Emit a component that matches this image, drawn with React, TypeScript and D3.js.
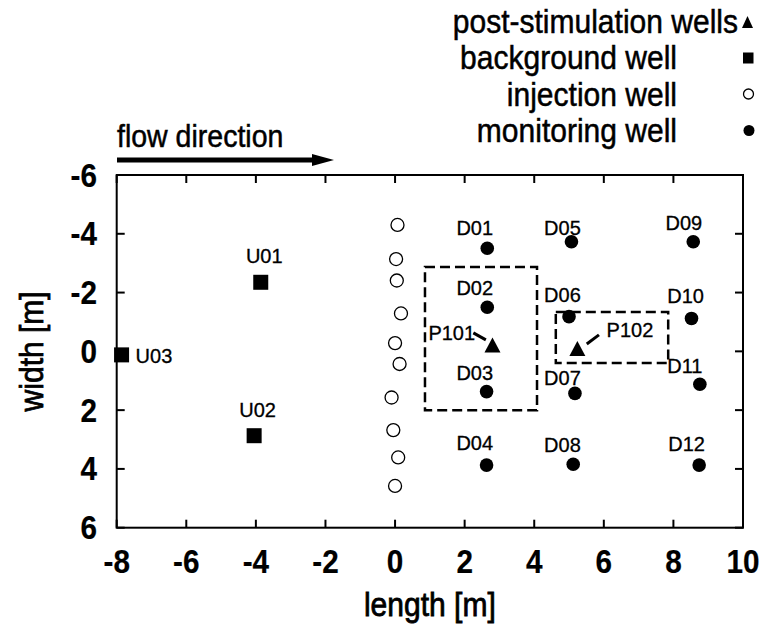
import React from "react";
import * as d3 from "d3";

// tick values
const xTicks = [-8, -6, -4, -2, 0, 2, 4, 6, 8, 10];
const yTicks = [-6, -4, -2, 0, 2, 4, 6];

// injection wells (open circles)
const injectionX = [0.07, 0.03, 0.05, 0.17, 0.0, 0.13, -0.1, -0.05, 0.09, 0.0];
const injectionY = [-4.3, -3.14, -2.41, -1.29, -0.28, 0.43, 1.57, 2.68, 3.61, 4.58];

// monitoring wells (filled circles)
const monitoringNames = ["D01", "D02", "D03", "D04", "D05", "D06", "D07", "D08", "D09", "D10", "D11", "D12"];
const monitoringX = [2.65, 2.65, 2.63, 2.63, 5.07, 5.0, 5.17, 5.12, 8.57, 8.52, 8.76, 8.74];
const monitoringY = [-3.51, -1.5, 1.37, 3.87, -3.73, -1.18, 1.43, 3.84, -3.73, -1.12, 1.12, 3.87];
const monitoringLabelX = [2.29, 2.29, 2.29, 2.29, 4.81, 4.81, 4.81, 4.81, 8.3, 8.35, 8.33, 8.38];
const monitoringLabelY = [-3.96, -1.92, 0.98, 3.36, -3.96, -1.69, 1.15, 3.42, -4.13, -1.64, 0.74, 3.38];

// background wells (squares)
const backgroundNames = ["U01", "U02", "U03"];
const backgroundX = [-3.86, -4.05, -7.86];
const backgroundY = [-2.35, 2.87, 0.12];
const backgroundLabelX = [-3.76, -3.95, -6.93];
const backgroundLabelY = [-3.0, 2.22, 0.41];

// post-stimulation wells (triangles)
const postNames = ["P101", "P102"];
const postX = [2.8, 5.24];
const postY = [-0.22, -0.1];
const postLabelX = [1.63, 6.75];
const postLabelY = [-0.39, -0.5];
const leaderX0 = [2.25, 5.51];
const leaderY0 = [-0.63, -0.25];
const leaderX1 = [2.61, 5.86];
const leaderY1 = [-0.39, -0.56];

// dashed stimulation zones
const boxX0 = [0.86, 4.62];
const boxX1 = [4.08, 7.85];
const boxY0 = [-2.87, -1.34];
const boxY1 = [2.0, 0.4];

const legendLabels = ["post-stimulation wells", "background well", "injection well", "monitoring well"];

const width = 768;
const height = 637;
const font = "'Liberation Sans', Arial, Helvetica, sans-serif";

const x = d3.scaleLinear().domain([-8, 10]).range([116.7, 743]);
const y = d3.scaleLinear().domain([-6, 6]).range([175, 527.7]);

// text squeezed a bit horizontally, like the condensed Helvetica of the original
const Txt = ({ tx, ty, anchor = "start", size = 33, weight = "normal", sx = 0.91, rotate = 0, sw = 0.5, children }: any) => (
  <g transform={`translate(${tx},${ty}) rotate(${rotate}) scale(${sx},1)`}>
    <text
      textAnchor={anchor}
      fontSize={size}
      fontWeight={weight}
      fontFamily={font}
      fill="#000"
      stroke="#000"
      strokeWidth={sw}
    >
      {children}
    </text>
  </g>
);

const triangle = (cx: number, cy: number, w: number, h: number) =>
  `M${cx - w / 2},${cy + h / 2}L${cx + w / 2},${cy + h / 2}L${cx},${cy - h / 2}Z`;

export default function App() {
  const [x0, x1] = x.range();
  const [y0, y1] = y.range();
  const tl = 8;

  return (
    <svg width={width} height={height} style={{ position: "absolute", left: 0, top: 0, background: "#fff" }}>
      {/* legend */}
      {legendLabels.map((l, i) => (
        <Txt key={l} tx={i === 0 ? 738 : 677} ty={33 + i * 36.3} anchor="end" size={33}>
          {l}
        </Txt>
      ))}
      <path d={triangle(747.5, 22, 11, 12)} fill="#000" />
      <rect x={743} y={52.5} width={10.5} height={11} fill="#000" />
      <circle cx={748.5} cy={94} r={5} fill="#fff" stroke="#000" strokeWidth={1.3} />
      <circle cx={749} cy={130.5} r={5.5} fill="#000" />

      {/* flow direction */}
      <Txt tx={117} ty={147} size={31} sx={0.92}>
        flow direction
      </Txt>
      <line x1={117} x2={316} y1={160} y2={160} stroke="#000" strokeWidth={5} />
      <path d="M312,154L334,160L312,166Z" fill="#000" />

      {/* dashed zones */}
      {boxX0.map((_, i) => (
        <rect
          key={i}
          x={x(boxX0[i])}
          y={y(boxY0[i])}
          width={x(boxX1[i]) - x(boxX0[i])}
          height={y(boxY1[i]) - y(boxY0[i])}
          fill="none"
          stroke="#000"
          strokeWidth={2.5}
          strokeDasharray="10,5"
        />
      ))}

      {/* injection wells */}
      {injectionX.map((v, i) => (
        <circle key={i} cx={x(v)} cy={y(injectionY[i])} r={6.5} fill="#fff" stroke="#000" strokeWidth={1.3} />
      ))}

      {/* monitoring wells */}
      {monitoringNames.map((n, i) => (
        <g key={n}>
          <circle cx={x(monitoringX[i])} cy={y(monitoringY[i])} r={6.8} fill="#000" />
          <Txt tx={x(monitoringLabelX[i])} ty={y(monitoringLabelY[i])} anchor="middle" size={20} sx={1} sw={0.3}>
            {n}
          </Txt>
        </g>
      ))}

      {/* background wells */}
      {backgroundNames.map((n, i) => (
        <g key={n}>
          <rect x={x(backgroundX[i]) - 7.5} y={y(backgroundY[i]) - 7.5} width={15} height={15} fill="#000" />
          <Txt tx={x(backgroundLabelX[i])} ty={y(backgroundLabelY[i])} anchor="middle" size={20} sx={1} sw={0.3}>
            {n}
          </Txt>
        </g>
      ))}

      {/* post-stimulation wells */}
      {postNames.map((n, i) => (
        <g key={n}>
          <path d={triangle(x(postX[i]), y(postY[i]), 16, 15)} fill="#000" />
          <line
            x1={x(leaderX0[i])}
            y1={y(leaderY0[i])}
            x2={x(leaderX1[i])}
            y2={y(leaderY1[i])}
            stroke="#000"
            strokeWidth={3}
          />
          <Txt tx={x(postLabelX[i])} ty={y(postLabelY[i])} anchor="middle" size={20} sx={1} sw={0.3}>
            {n}
          </Txt>
        </g>
      ))}

      {/* ticks (mirrored, inward) */}
      {xTicks.map((t) => (
        <g key={"x" + t}>
          <line x1={x(t)} x2={x(t)} y1={y1} y2={y1 - tl} stroke="#000" strokeWidth={2} />
          <line x1={x(t)} x2={x(t)} y1={y0} y2={y0 + tl} stroke="#000" strokeWidth={2} />
          <Txt tx={x(t)} ty={573} anchor="middle" size={33} weight="bold" sx={0.9} sw={0.2}>
            {t}
          </Txt>
        </g>
      ))}
      {yTicks.map((t) => (
        <g key={"y" + t}>
          <line x1={x0} x2={x0 + tl} y1={y(t)} y2={y(t)} stroke="#000" strokeWidth={2} />
          <line x1={x1} x2={x1 - tl} y1={y(t)} y2={y(t)} stroke="#000" strokeWidth={2} />
          <Txt tx={97} ty={y(t) + 11.5} anchor="end" size={33} weight="bold" sx={0.9} sw={0.2}>
            {t}
          </Txt>
        </g>
      ))}

      {/* border */}
      <rect x={x0} y={y0} width={x1 - x0} height={y1 - y0} fill="none" stroke="#000" strokeWidth={2} />

      {/* axis titles */}
      <Txt tx={(x0 + x1) / 2} ty={616} anchor="middle" size={33} sx={0.91} sw={0.8}>
        length [m]
      </Txt>
      <Txt tx={43} ty={(y0 + y1) / 2} anchor="middle" size={33} sx={0.91} sw={0.8} rotate={-90}>
        width [m]
      </Txt>
    </svg>
  );
}
